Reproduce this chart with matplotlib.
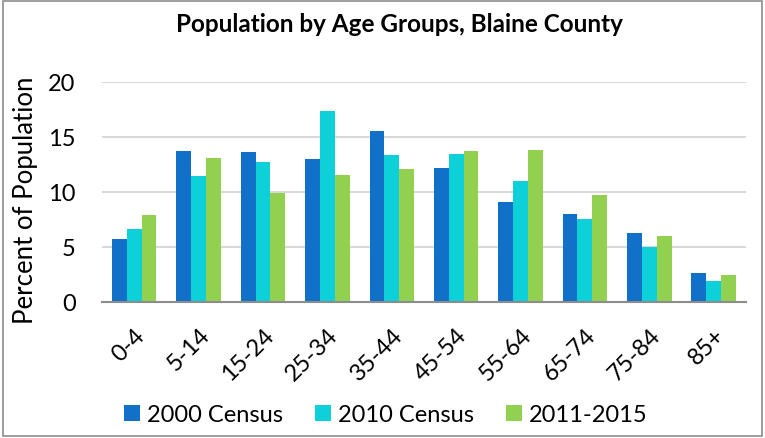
import matplotlib
matplotlib.use("Agg")
import matplotlib.pyplot as plt
import numpy as np
from matplotlib.patches import Rectangle

plt.rcParams['font.family'] = ['Lato', 'DejaVu Sans']

categories = ["0-4", "5-14", "15-24", "25-34", "35-44", "45-54", "55-64", "65-74", "75-84", "85+"]
census_2000 = [5.7, 13.7, 13.6, 13.0, 15.5, 12.2, 9.1, 8.0, 6.2, 2.6]
census_2010 = [6.6, 11.4, 12.7, 17.3, 13.3, 13.4, 11.0, 7.5, 5.0, 1.9]
acs_2011_2015 = [7.9, 13.1, 9.9, 11.5, 12.1, 13.7, 13.8, 9.7, 6.0, 2.4]
series_names = ["2000 Census", "2010 Census", "2011-2015"]
colors = ["#1170C8", "#0DD0D8", "#92D050"]
yticks = [0, 5, 10, 15, 20]

fig = plt.figure(figsize=(7.65, 4.39), dpi=100)
ax = fig.add_axes([0.1333, 0.3105, 0.8417, 0.5011])

x = np.arange(len(categories))
w = 0.23
for i, (vals, name, c) in enumerate(zip([census_2000, census_2010, acs_2011_2015], series_names, colors)):
    ax.bar(x + (i - 1) * w, vals, width=w, color=c, label=name, zorder=3)

ax.set_xlim(-0.5, len(categories) - 0.5)
ax.set_ylim(0, 20)
ax.set_yticks(yticks)
ax.set_yticklabels([str(v) for v in yticks], fontsize=17)
ax.set_xticks(x)
ax.set_xticklabels(categories, rotation=45, ha='right', va='top', rotation_mode='anchor', fontsize=17)
ax.tick_params(axis='both', length=0)
ax.tick_params(axis='y', pad=19)
ax.tick_params(axis='x', pad=16)
ax.grid(axis='y', color='#D9D9D9', linewidth=1.5, zorder=0)
for s in ['top', 'right', 'left']:
    ax.spines[s].set_visible(False)
ax.spines['bottom'].set_color('#8C8C8C')
ax.spines['bottom'].set_linewidth(1.5)
ax.spines['bottom'].set_zorder(4)

fig.text(26 / 765, 1 - 200 / 439, "Percent of Population", rotation=90, ha='center', va='center', fontsize=18.5)
fig.text(399 / 765, 1 - 25 / 439, "Population by Age Groups, Blaine County", ha='center', va='center',
         fontsize=17.5, fontweight='bold')

handles, labels = ax.get_legend_handles_labels()
fig.legend(handles, labels, loc='center', bbox_to_anchor=(386 / 765, 1 - 416 / 439), ncol=3, frameon=False,
           fontsize=17, handlelength=0.68, handleheight=0.68, handletextpad=0.3, columnspacing=1.35)

fig.patches.append(Rectangle((0.004, 0.004), 0.992, 0.992, transform=fig.transFigure,
                             fill=False, edgecolor='#8C8C8C', linewidth=1.2))

fig.savefig("out.png", dpi=100)
